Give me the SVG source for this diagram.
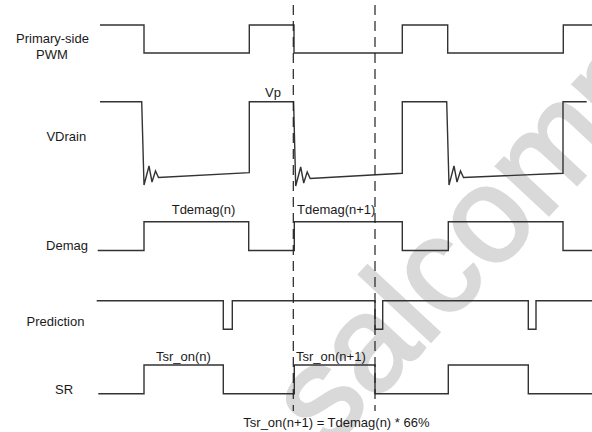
<svg xmlns="http://www.w3.org/2000/svg" width="592" height="432" viewBox="0 0 592 432">
<style>
text{font-family:"Liberation Sans",Arial,sans-serif;font-size:13px;fill:#1a1a1a}
.lbl{text-anchor:middle}
.wave{fill:none;stroke:#333;stroke-width:1.4;stroke-linejoin:miter}
.dash{fill:none;stroke:#222;stroke-width:1.2;stroke-dasharray:10 6}
.wm{font-size:135px;fill:#d9d9d9;stroke:#d9d9d9;stroke-width:3}
</style>
<rect width="592" height="432" fill="#fff"/>
<text class="wm" transform="translate(327.6,452) rotate(-47)">salcomp</text>
<g id="pwm">
<text class="lbl" x="52.5" y="43">Primary-side</text>
<text class="lbl" x="52" y="58.5">PWM</text>
<path class="wave" d="M100,25 H144 V53 H249.3 V25 H294 V53 H402.3 V25 H447.7 V53 H563.3 V25 H592"/>
</g>
<g id="vdrain">
<text class="lbl" x="66.3" y="141">VDrain</text>
<text x="265" y="97">Vp</text>
<path class="wave" d="M100,101.7 H141.7 L144,185 L149,166 L152,182 L155.5,171 L158.5,177.5 L249.3,172.7 V101.7 H293.6 L295.7,186 L300.7,167 L303.7,183 L307.2,172 L310.2,178.5 L402.3,173.3 V101.7 H446.7 L449,185 L454,166 L457,182 L460.5,171 L463.5,177.5 L563,173.3 V101.7 H586.7"/>
</g>
<g id="demag">
<text class="lbl" x="67" y="250">Demag</text>
<text x="171.7" y="214">Tdemag(n)</text>
<text x="297" y="214">Tdemag(n+1)</text>
<path class="wave" d="M97.7,250.5 H144 V221.7 H248.7 V250.5 H294.3 V221.7 H402.3 V250.5 H448.3 V221.7 H563 V250.5 H592"/>
</g>
<g id="prediction">
<text class="lbl" x="55.5" y="326">Prediction</text>
<path class="wave" d="M96.7,300.7 H223.3 V329.3 H232.3 V300.7 H375 V329.3 H382.7 V300.7 H528.3 V329.3 H536 V300.7 H592"/>
</g>
<g id="sr">
<text class="lbl" x="64" y="394">SR</text>
<text x="156" y="361">Tsr_on(n)</text>
<text x="296" y="361">Tsr_on(n+1)</text>
<path class="wave" d="M98.3,393.7 H144 V365 H223.3 V393.7 H294.3 V365 H375 V393.7 H448.3 V365 H528.3 V393.7 H592"/>
</g>
<g id="note">
<text x="243.3" y="427">Tsr_on(n+1) = Tdemag(n) * 66%</text>
</g>
<g id="connectors">
<line class="dash" x1="293.3" y1="5" x2="293.3" y2="411"/>
<line class="dash" x1="375" y1="5" x2="375" y2="411"/>
</g>
</svg>
